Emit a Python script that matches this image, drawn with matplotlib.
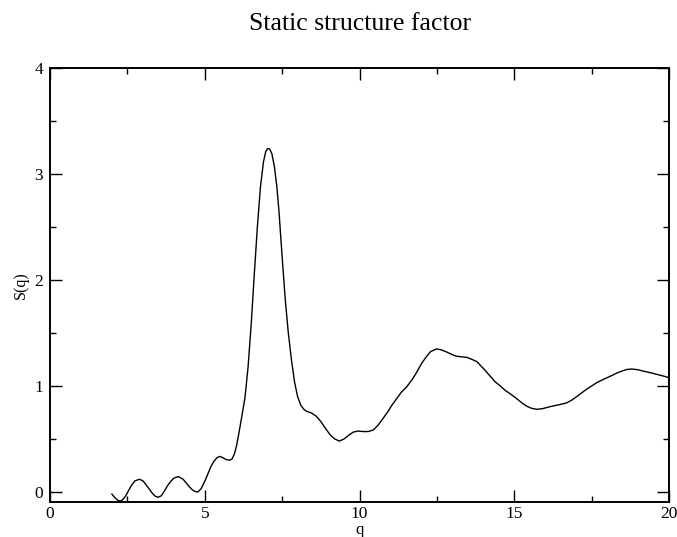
import matplotlib
matplotlib.use("Agg")
from matplotlib import pyplot as plt
from matplotlib.ticker import MultipleLocator

# Data
q = [2.00, 2.10, 2.20, 2.28, 2.36, 2.45, 2.55, 2.65, 2.75, 2.89, 3.00, 3.10,
     3.20, 3.30, 3.40, 3.50, 3.60, 3.70, 3.80, 3.90, 4.00, 4.15, 4.30, 4.40,
     4.50, 4.60, 4.70, 4.78, 4.88, 5.00, 5.10, 5.20, 5.30, 5.40, 5.50, 5.60,
     5.70, 5.80, 5.88, 5.96, 6.03, 6.10, 6.19, 6.30, 6.40, 6.50, 6.60, 6.70,
     6.80, 6.90, 6.97, 7.03, 7.10, 7.17, 7.25, 7.33, 7.40, 7.50, 7.60, 7.70,
     7.80, 7.90, 8.00, 8.10, 8.20, 8.30, 8.45, 8.60, 8.75, 8.90, 9.05, 9.20,
     9.35, 9.50, 9.65, 9.80, 9.96, 10.10, 10.28, 10.45, 10.60, 10.75, 10.90,
     11.05, 11.20, 11.35, 11.52, 11.70, 11.85, 12.00, 12.17, 12.30, 12.49,
     12.65, 12.82, 13.00, 13.14, 13.30, 13.46, 13.60, 13.79, 13.92, 14.05,
     14.20, 14.38, 14.55, 14.70, 14.90, 15.08, 15.25, 15.40, 15.55, 15.72,
     15.90, 16.16, 16.40, 16.69, 16.85, 17.02, 17.18, 17.34, 17.50, 17.66,
     17.90, 18.09, 18.30, 18.47, 18.63, 18.79, 19.00, 19.17, 19.40, 19.60,
     19.80, 19.98]
s = [-0.020, -0.055, -0.080, -0.085, -0.070, -0.035, 0.020, 0.070, 0.105,
     0.120, 0.105, 0.070, 0.030, -0.010, -0.040, -0.050, -0.035, 0.010, 0.060,
     0.100, 0.130, 0.145, 0.120, 0.085, 0.050, 0.020, 0.003, 0.000, 0.030,
     0.100, 0.170, 0.240, 0.290, 0.325, 0.335, 0.320, 0.305, 0.300, 0.310,
     0.360, 0.440, 0.550, 0.700, 0.890, 1.180, 1.580, 2.050, 2.500, 2.880,
     3.120, 3.210, 3.240, 3.235, 3.190, 3.070, 2.880, 2.640, 2.220, 1.820,
     1.500, 1.250, 1.040, 0.900, 0.820, 0.780, 0.760, 0.745, 0.715, 0.665,
     0.600, 0.540, 0.500, 0.480, 0.500, 0.535, 0.565, 0.575, 0.570, 0.570,
     0.585, 0.630, 0.690, 0.750, 0.820, 0.880, 0.940, 0.990, 1.060, 1.130,
     1.210, 1.280, 1.325, 1.350, 1.340, 1.320, 1.295, 1.280, 1.275, 1.270,
     1.255, 1.230, 1.190, 1.150, 1.100, 1.040, 1.000, 0.960, 0.920, 0.880,
     0.840, 0.810, 0.790, 0.780, 0.785, 0.805, 0.820, 0.840, 0.865, 0.900,
     0.935, 0.970, 1.000, 1.030, 1.065, 1.090, 1.120, 1.140, 1.155, 1.160,
     1.153, 1.140, 1.125, 1.110, 1.095, 1.080]

plt.rcParams['font.family'] = ['Liberation Serif', 'DejaVu Serif']

fig = plt.figure(figsize=(6.77, 5.37), dpi=100)
ax = fig.add_axes([50 / 677, 1 - 501.5 / 537, 619 / 677, 433.5 / 537])

ax.plot(q, s, color='black', linewidth=1.0)

ax.set_xlim(0, 20)
ax.set_ylim(-0.09, 4)
ax.xaxis.set_major_locator(MultipleLocator(5))
ax.xaxis.set_minor_locator(MultipleLocator(2.5))
ax.yaxis.set_major_locator(MultipleLocator(1))
ax.yaxis.set_minor_locator(MultipleLocator(0.5))
ax.tick_params(which='both', direction='in', top=True, right=True,
               width=1.0, labelsize=12.5)
ax.tick_params(which='major', length=8.6)
ax.tick_params(which='minor', length=4.3)
ax.tick_params(axis='x', pad=3)
ax.tick_params(axis='y', pad=5)
for sp in ax.spines.values():
    sp.set_linewidth(1.4)

ax.set_xlabel('q', fontsize=12, labelpad=0)
ax.set_ylabel('S(q)', fontsize=11.5, labelpad=4)
fig.text(360 / 677, 1 - 24 / 537, 'Static structure factor', fontsize=18.5,
         ha='center', va='center')

fig.savefig('out.png', dpi=100)
